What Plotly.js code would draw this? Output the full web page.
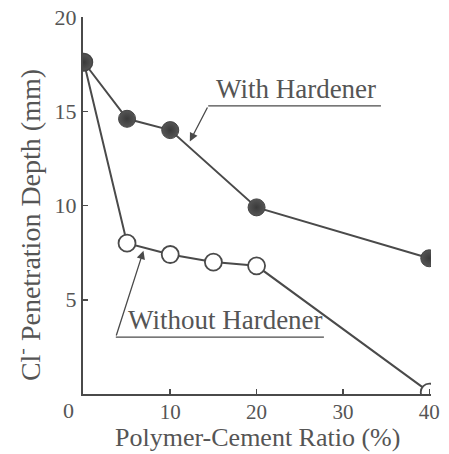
<!DOCTYPE html>
<html><head><meta charset="utf-8">
<script src="https://cdn.plot.ly/plotly-3.0.1.min.js"></script>
<style>html,body{margin:0;padding:0;background:#fff}#chart{width:449px;height:454px}</style>
</head><body><div id="chart"></div>
<script>
const ratioWith = [0, 5, 10, 20, 40];
const depthWith = [17.6, 14.6, 14.0, 9.9, 7.2];
const ratioWithout = [0, 5, 10, 15, 20, 40];
const depthWithout = [17.6, 8.0, 7.4, 7.0, 6.8, 0.1];
const xTicks = [10, 20, 30, 40];
const yTicks = [5, 10, 15, 20];
const seriesNames = ['With Hardener', 'Without Hardener'];
const xTitle = 'Polymer-Cement Ratio (%)';
const yTitle = 'Cl<sup>-</sup> Penetration Depth (mm)';

const ink = '#4a4a4a';
const font = 'Liberation Serif, Times New Roman, serif';
const txt = '#555';

const traces = [
  {x: ratioWithout, y: depthWithout, mode: 'lines+markers', name: seriesNames[1],
   line: {color: ink, width: 2},
   marker: {size: 17, color: '#ffffff', line: {color: ink, width: 1.8}}},
  {x: ratioWith, y: depthWith, mode: 'lines+markers', name: seriesNames[0],
   line: {color: ink, width: 2},
   marker: {size: 17, color: '#555555', line: {color: '#444', width: 1},
            gradient: {type: 'radial', color: '#3a3a3a'}}}
];

const layout = {
  width: 449, height: 454,
  margin: {l: 83, r: 18, t: 17, b: 60},
  paper_bgcolor: '#fff', plot_bgcolor: '#fff',
  showlegend: false,
  font: {family: font, color: txt, size: 21},
  xaxis: {range: [-0.1, 40.2], tickvals: xTicks, ticktext: xTicks.map(String),
          ticks: 'inside', ticklen: 5, tickcolor: ink, tickwidth: 1.5, ticklabelstandoff: -2,
          showline: true, linecolor: ink, linewidth: 2, showgrid: false, zeroline: false,
          tickfont: {family: font, size: 21, color: txt}},
  yaxis: {range: [0, 20], tickvals: yTicks, ticktext: yTicks.map(String),
          ticks: 'inside', ticklen: 5, tickcolor: ink, tickwidth: 1.5,
          showline: true, linecolor: ink, linewidth: 2, showgrid: false, zeroline: false,
          tickfont: {family: font, size: 22, color: txt}},
  shapes: [
    {type: 'line', xref: 'x', yref: 'y', x0: 14.4, x1: 34.4, y0: 15.28, y1: 15.28, line: {color: ink, width: 1.3}},
    {type: 'line', xref: 'x', yref: 'y', x0: 3.7, x1: 27.8, y0: 3.02, y1: 3.02, line: {color: ink, width: 1.3}}
  ],
  annotations: [
    {text: yTitle, xref: 'paper', yref: 'paper', x: -0.158, y: 0.448, xanchor: 'center', yanchor: 'middle',
     textangle: -90, showarrow: false, font: {family: font, size: 28, color: txt}},
    {text: xTitle, xref: 'paper', yref: 'paper', x: 0.5, y: -0.157, xanchor: 'center', yanchor: 'bottom',
     borderpad: 0, showarrow: false, font: {family: font, size: 26, color: txt}},
    {text: '0', xref: 'paper', yref: 'paper', x: -0.043, y: -0.045, xanchor: 'center', yanchor: 'middle',
     showarrow: false, font: {family: font, size: 22, color: txt}},
    {text: seriesNames[0], xref: 'x', yref: 'y', x: 24.6, y: 15.28, xanchor: 'center', yanchor: 'bottom',
     showarrow: false, font: {family: font, size: 27, color: txt}},
    {text: '', xref: 'x', yref: 'y', x: 12.27, y: 13.4, axref: 'x', ayref: 'y', ax: 14.4, ay: 15.28,
     showarrow: true, arrowhead: 2, arrowsize: 1.3, arrowwidth: 1.3, arrowcolor: ink},
    {text: seriesNames[1], xref: 'x', yref: 'y', x: 16.4, y: 3.02, xanchor: 'center', yanchor: 'bottom',
     showarrow: false, font: {family: font, size: 27, color: txt}},
    {text: '', xref: 'x', yref: 'y', x: 6.9, y: 7.6, axref: 'x', ayref: 'y', ax: 3.7, ay: 3.02,
     showarrow: true, arrowhead: 2, arrowsize: 1.3, arrowwidth: 1.3, arrowcolor: ink}
  ]
};

Plotly.newPlot('chart', traces, layout, {displayModeBar: false, staticPlot: true});
</script></body></html>
